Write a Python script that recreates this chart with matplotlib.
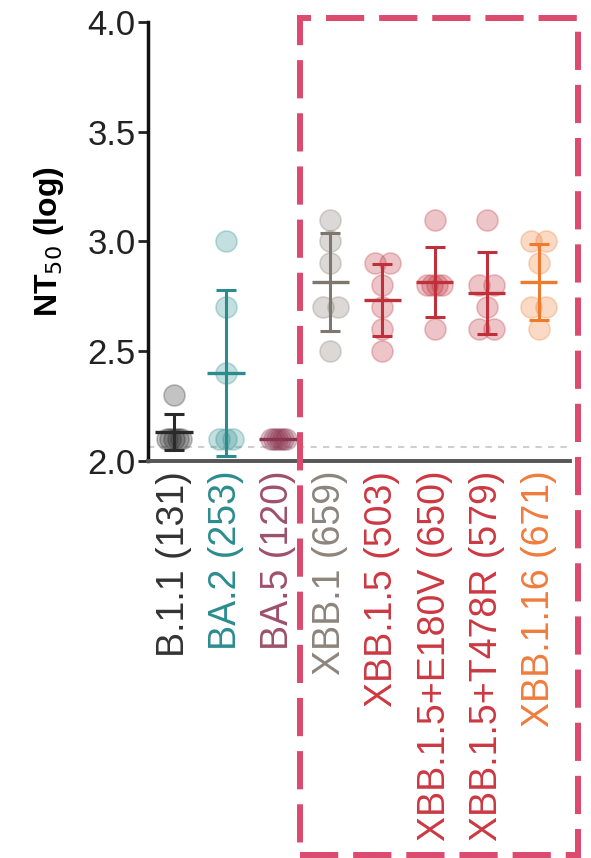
import numpy as np
import matplotlib
matplotlib.use("Agg")
import matplotlib.pyplot as plt
from matplotlib.patches import Rectangle

plt.rcParams["font.family"] = ["Liberation Sans", "DejaVu Sans"]

# NT50 (log) per variant
variants = ["B.1.1 (131)", "BA.2 (253)", "BA.5 (120)", "XBB.1 (659)",
            "XBB.1.5 (503)", "XBB.1.5+E180V (650)", "XBB.1.5+T478R (579)",
            "XBB.1.16 (671)"]
b11 = [2.3, 2.1, 2.1, 2.1, 2.1, 2.1]
ba2 = [3.0, 2.7, 2.4, 2.1, 2.1, 2.1]
ba5 = [2.1, 2.1, 2.1, 2.1, 2.1, 2.1]
xbb1 = [3.1, 3.0, 2.9, 2.7, 2.7, 2.5]
xbb15 = [2.9, 2.9, 2.8, 2.7, 2.6, 2.5]
xbb15_e180v = [3.1, 2.8, 2.8, 2.8, 2.8, 2.6]
xbb15_t478r = [3.1, 2.8, 2.8, 2.7, 2.6, 2.6]
xbb116 = [3.0, 3.0, 2.9, 2.7, 2.7, 2.6]
detection_limit = 2.065

groups = [b11, ba2, ba5, xbb1, xbb15, xbb15_e180v, xbb15_t478r, xbb116]
colors = ["#2a2a2a", "#2b8c8e", "#8b3450", "#7f766e",
          "#c0303a", "#c0303a", "#c0303a", "#ee7a30"]
label_colors = ["#333333", "#2b8c8e", "#9e5069", "#8d847c",
                "#cc3842", "#cc3842", "#cc3842", "#f07b3c"]

fig = plt.figure(figsize=(5.91, 8.58), dpi=100)
ax = fig.add_axes([148 / 591, 1 - 461 / 858, 422 / 591, 439 / 858])

ax.axhline(detection_limit, color="#cfcfcf", lw=1.5, ls=(0, (3, 3)), zorder=0)

for i, (vals, col) in enumerate(zip(groups, colors)):
    vals = np.array(vals)
    xs = np.full(len(vals), float(i))
    # spread tied values side by side
    for v in np.unique(vals):
        idx = np.where(vals == v)[0]
        if len(idx) > 1:
            xs[idx] = i + np.linspace(-0.14, 0.14, len(idx))
    ax.scatter(xs, vals, s=230, facecolor=col, edgecolor=col, alpha=0.28,
               linewidth=1.2, zorder=2)
    m = vals.mean()
    sd = vals.std(ddof=1)
    ax.errorbar(i, m, yerr=sd, color=col, lw=2.2, capsize=7, capthick=2.2,
                fmt="none", zorder=3)
    ax.hlines(m, i - 0.36, i + 0.36, color=col, lw=2.4, zorder=3)

ax.set_xlim(-0.5, 7.6)
ax.set_ylim(2.0, 4.0)
ax.set_yticks([2.0, 2.5, 3.0, 3.5, 4.0])
ax.set_yticklabels(["2.0", "2.5", "3.0", "3.5", "4.0"], fontsize=25)
ax.set_xticks(range(len(variants)))
ax.set_xticklabels(variants, rotation=90, fontsize=27)
for t, c in zip(ax.get_xticklabels(), label_colors):
    t.set_color(c)
ax.tick_params(axis="x", length=0, pad=7)
ax.tick_params(axis="y", length=7, width=2, pad=2, colors="#222222")

ax.set_ylabel("NT$_{50}$ (log)", fontsize=23, fontweight="bold", labelpad=15)

for s in ["top", "right"]:
    ax.spines[s].set_visible(False)
ax.spines["left"].set_linewidth(2.5)
ax.spines["left"].set_color("#111111")
ax.spines["bottom"].set_linewidth(2.8)
ax.spines["bottom"].set_color("#555555")

box = Rectangle((300 / 591, 3 / 858), 278 / 591, 837 / 858,
                transform=fig.transFigure, fill=False, edgecolor="#dc4a6e",
                lw=4.3, ls=(0, (6.4, 2.5)), clip_on=False, zorder=5)
fig.patches.append(box)

fig.savefig("out.png", dpi=100)
